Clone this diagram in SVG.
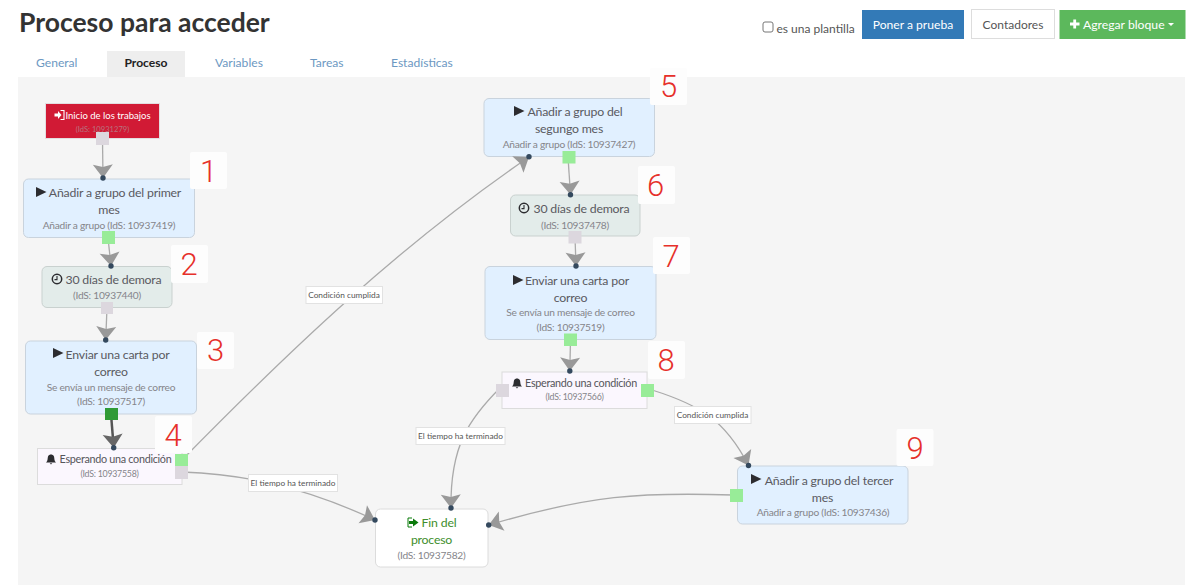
<svg xmlns="http://www.w3.org/2000/svg" xmlns:xlink="http://www.w3.org/1999/xlink" width="1200" height="585" viewBox="0 0 1200 585">
<style>
text{font-family:"Lato","Liberation Sans",sans-serif}
.t{font-size:12.300px;letter-spacing:-.2px;fill:#5a5a5f;text-anchor:middle}
.s{font-size:10.200px;letter-spacing:-.25px;fill:#85858a;text-anchor:middle}
.w{font-size:10.800px;letter-spacing:-.3px;fill:#55555a;text-anchor:middle}
.l{font-size:8.300px;fill:#555;text-anchor:middle}
.lb{fill:#fff;stroke:#e2e2e2;stroke-width:1}
.tab{font-size:12.100px;fill:#6c98c2}
.c{fill:none;stroke:#aaa;stroke-width:1.300;marker-end:url(#ah)}
.cd{fill:none;stroke:#555;stroke-width:2.500;marker-end:url(#ahd)}
.blue{fill:#e1f0ff;stroke:#c9d3dd}
.teal{fill:#e3ecea;stroke:#c9d1cf}
.lil{fill:#fbf7fe;stroke:#dcdcdc}
.g{fill:#98ec98}.y{fill:#dcd7de}
.d{fill:#34495e}
.b{fill:#fdfdfd}
.n{font-family:"Roboto","Liberation Sans",sans-serif;font-weight:300;font-size:31px;fill:#e6302a;text-anchor:middle}
</style>
<defs>
<marker id="ah" markerUnits="userSpaceOnUse" markerWidth="20" markerHeight="22" refX="16" refY="10.500" orient="auto" viewBox="0 0 20 22"><path d="M16 10.500L2.500 .5L5 10.500L2.500 20.500Z" fill="#999"/></marker>
<marker id="ahd" markerUnits="userSpaceOnUse" markerWidth="20" markerHeight="22" refX="16" refY="10.500" orient="auto" viewBox="0 0 20 22"><path d="M16 10.500L2.500 .5L5 10.500L2.500 20.500Z" fill="#666"/></marker>
<path id="play" d="M0 0L10.500 5L0 10Z" fill="#2c2c30"/>
<g id="clock"><circle cx="0" cy="0" r="4.700" fill="none" stroke="#2c2c30" stroke-width="1.500"/><path d="M0-3V0.600H-2.500" fill="none" stroke="#2c2c30" stroke-width="1.100"/></g>
<path id="bell" d="M-5 3.500C-3 2-3.500-1-3-2.500C-2.500-4-1-4.500 0-4.500C1-4.500 2.500-4 3-2.500C3.500-1 3 2 5 3.500ZM-1.300 4.300H1.300L0 5.500Z" fill="#2c2c30"/>
</defs>
<rect width="1200" height="585" fill="#fff"/>
<rect x="18" y="77" width="1167" height="508" fill="#f5f5f5"/>
<g id="header">
<text x="19" y="32" font-size="26.500" font-weight="700" style="fill:#333">Proceso para acceder</text>
<rect x="763" y="22" width="10" height="10" rx="2" fill="#fff" stroke="#777"/>
<text x="776.500" y="33" font-size="12" style="fill:#555">es una plantilla</text>
<rect x="862" y="10" width="102" height="29" fill="#337ab7"/>
<text x="913" y="28.500" font-size="12.100" style="fill:#fff;text-anchor:middle">Poner a prueba</text>
<rect x="971.500" y="9.500" width="83" height="29" fill="#fff" stroke="#ddd"/>
<text x="1013" y="28.500" font-size="12" style="fill:#555;text-anchor:middle">Contadores</text>
<rect x="1059.500" y="10" width="126" height="29" fill="#5cb85c"/>
<path d="M1070 24H1079.500M1074.700 19.500V28.500" stroke="#fff" stroke-width="2.800"/>
<text x="1083" y="28.500" font-size="12.200" style="fill:#fff">Agregar bloque</text>
<path d="M1168 23H1174L1171 26Z" fill="#fff"/>
</g>
<g id="tabs">
<rect x="107" y="51" width="78" height="26" fill="#eee"/>
<text class="tab" x="36" y="67">General</text>
<text x="146" y="67" font-size="12.100" font-weight="700" style="fill:#222;text-anchor:middle">Proceso</text>
<text class="tab" x="215" y="67">Variables</text>
<text class="tab" x="310" y="67">Tareas</text>
<text class="tab" x="391" y="67">Estadísticas</text>
</g>
<g id="node-start"><rect x="45.500" y="103.500" width="114" height="35" fill="#d11a35" stroke="#e3dde0"/>
<path d="M54.500 113.500H58V111L61.500 115L58 119V116.500H54.500Z" fill="#fff"/><path d="M60.500 110.500H64V119.500H60.500" fill="none" stroke="#fff" stroke-width="1.100"/>
<text x="108" y="119" font-size="9.500" style="fill:#fff;text-anchor:middle">Inicio de los trabajos</text>
<text x="102.500" y="131.500" font-size="7.600" style="fill:#b8737f;text-anchor:middle">(IdS: 10931279)</text></g>
<g id="node-1"><rect class="blue" x="23.500" y="179" width="171" height="58.500" rx="5"/><use xlink:href="#play" href="#play" x="36" y="187"/>
<text class="t" x="115" y="197">Añadir a grupo del primer</text><text class="t" x="109" y="214">mes</text><text class="s" x="109" y="229">Añadir a grupo (IdS: 10937419)</text></g>
<g id="node-2"><rect class="teal" x="42" y="266.500" width="130" height="41" rx="5"/><use xlink:href="#clock" href="#clock" x="57" y="279"/>
<text class="t" x="113.500" y="284">30 días de demora</text><text class="s" x="107" y="299">(IdS: 10937440)</text></g>
<g id="node-3"><rect class="blue" x="25.500" y="341" width="171" height="73" rx="5"/><use xlink:href="#play" href="#play" x="53" y="348"/>
<text class="t" x="117.500" y="359">Enviar una carta por</text><text class="t" x="111" y="376">correo</text><text class="s" x="111" y="391">Se envía un mensaje de correo</text><text class="s" x="111" y="405">(IdS: 10937517)</text></g>
<g id="node-4"><rect class="lil" x="37.500" y="448.500" width="144.500" height="36"/><use xlink:href="#bell" href="#bell" x="51" y="459"/>
<text class="w" x="115.500" y="463">Esperando una condición</text><text class="s" x="109.500" y="477" style="font-size:8.800px">(IdS: 10937558)</text></g>
<g id="node-5"><rect class="blue" x="484" y="98.500" width="170.500" height="58" rx="5"/><use xlink:href="#play" href="#play" x="514" y="106"/>
<text class="t" x="575" y="116">Añadir a grupo del</text><text class="t" x="569" y="133">segungo mes</text><text class="s" x="569" y="148">Añadir a grupo (IdS: 10937427)</text></g>
<g id="node-6"><rect class="teal" x="510.500" y="195" width="129.500" height="41" rx="5"/><use xlink:href="#clock" href="#clock" x="524" y="208"/>
<text class="t" x="581.500" y="213">30 días de demora</text><text class="s" x="575" y="229">(IdS: 10937478)</text></g>
<g id="node-7"><rect class="blue" x="485" y="266.500" width="171" height="73" rx="5"/><use xlink:href="#play" href="#play" x="513" y="275"/>
<text class="t" x="577" y="285">Enviar una carta por</text><text class="t" x="570.500" y="302">correo</text><text class="s" x="570.500" y="316">Se envía un mensaje de correo</text><text class="s" x="570.500" y="331">(IdS: 10937519)</text></g>
<g id="node-8"><rect class="lil" x="502" y="372" width="145" height="36.500"/><use xlink:href="#bell" href="#bell" x="517" y="383"/>
<text class="w" x="581" y="387">Esperando una condición</text><text class="s" x="574.500" y="400" style="font-size:8.800px">(IdS: 10937566)</text></g>
<g id="node-9"><rect class="blue" x="737.500" y="466" width="170.500" height="58" rx="5"/><use xlink:href="#play" href="#play" x="751" y="474"/>
<text class="t" x="829" y="485">Añadir a grupo del tercer</text><text class="t" x="822.500" y="502">mes</text><text class="s" x="823" y="516">Añadir a grupo (IdS: 10937436)</text></g>
<g id="node-end"><rect x="375.500" y="509" width="112.500" height="58" rx="5" fill="#fff" stroke="#dcdcdc"/>
<path d="M409 521H413V518.500L418.500 522.500L413 526.500V524H409Z" fill="#0a7a0a"/><path d="M412 518H408V527H412" fill="none" stroke="#0a7a0a" stroke-width="1"/>
<text class="t" x="439" y="527" style="fill:#3e8e2c">Fin del</text><text class="t" x="431.500" y="544" style="fill:#3e8e2c">proceso</text><text class="s" x="431.500" y="559">(IdS: 10937582)</text></g>
<g id="connectors">
<path class="c" d="M102.500 140L103 178"/>
<path class="c" d="M108 238L111 266"/>
<path class="c" d="M107 308L105.700 340"/>
<path class="cd" d="M111 414L113.700 447.700"/>
<path class="c" d="M182 460C290 350 400 245 529 157"/>
<path class="c" d="M182 472C240 474 300 485 375 520"/>
<path class="c" d="M568 157L570.500 194.700"/>
<path class="c" d="M575 237L576 266"/>
<path class="c" d="M570.500 340L569.800 371"/>
<path class="c" d="M500 388C470 418 450 445 451 508"/>
<path class="c" d="M652 390C700 405 725 420 748.500 465.500"/>
<path class="c" d="M733 495C640 492 590 495 488.700 525"/>
<g id="connector-labels">
<rect class="lb" x="306" y="286.500" width="76.500" height="17"/><text class="l" x="344" y="298">Condición cumplida</text>
<rect class="lb" x="248.500" y="474.500" width="89" height="17"/><text class="l" x="293" y="486">El tiempo ha terminado</text>
<rect class="lb" x="416" y="427.500" width="89" height="17"/><text class="l" x="460.500" y="439">El tiempo ha terminado</text>
<rect class="lb" x="674.500" y="406.500" width="76.500" height="17"/><text class="l" x="712.500" y="418">Condición cumplida</text>
</g>
</g>
<g id="badges">
<rect class="b" x="190" y="152" width="37" height="37" rx="2"/><text class="n" x="208.500" y="182">1</text>
<rect class="b" x="171" y="245" width="37" height="38" rx="2"/><text class="n" x="189" y="275">2</text>
<rect class="b" x="197" y="332" width="37" height="37" rx="2"/><text class="n" x="215.500" y="361">3</text>
<rect class="b" x="155" y="416" width="37" height="37" rx="2"/><text class="n" x="173" y="446">4</text>
<rect class="b" x="650" y="68" width="37" height="37" rx="2"/><text class="n" x="668.500" y="97">5</text>
<rect class="b" x="638" y="166" width="37" height="38" rx="2"/><text class="n" x="655.500" y="196">6</text>
<rect class="b" x="653" y="237" width="37" height="37" rx="2"/><text class="n" x="671" y="267">7</text>
<rect class="b" x="648" y="341" width="37" height="38" rx="2"/><text class="n" x="666" y="371">8</text>
<rect class="b" x="896.500" y="429" width="37" height="37" rx="2"/><text class="n" x="915" y="459">9</text>
</g>
<g id="ports">
<rect class="y" x="96" y="132" width="13" height="13"/>
<rect class="g" x="102" y="231" width="13" height="13"/>
<rect class="y" x="101" y="302" width="12" height="12"/>
<rect x="105" y="408" width="13" height="12" fill="#2f9a36"/>
<rect class="g" x="175" y="454" width="13" height="12.500"/>
<rect class="y" x="175" y="466" width="13" height="13"/>
<rect class="g" x="562.500" y="151" width="13" height="12.500"/>
<rect class="y" x="568.500" y="231" width="13" height="12.500"/>
<rect class="g" x="564" y="333.500" width="13" height="12.500"/>
<rect class="y" x="496" y="384" width="13" height="13"/>
<rect class="g" x="641" y="384" width="13" height="13"/>
<rect class="g" x="730" y="489" width="13" height="13"/>
</g>
<g id="dots">
<circle class="d" cx="103" cy="178" r="2.700"/><circle class="d" cx="111" cy="266" r="2.700"/><circle class="d" cx="105.700" cy="340" r="2.700"/><circle class="d" cx="113.700" cy="447.700" r="2.700"/>
<circle class="d" cx="529" cy="156.700" r="2.700"/><circle class="d" cx="570.500" cy="194.700" r="2.700"/><circle class="d" cx="576" cy="266" r="2.700"/><circle class="d" cx="569.800" cy="371" r="2.700"/>
<circle class="d" cx="748.500" cy="465.500" r="2.700"/><circle class="d" cx="451" cy="508" r="2.700"/><circle class="d" cx="488.700" cy="525" r="2.700"/><circle class="d" cx="375" cy="520" r="2.700"/>
</g>
</svg>
